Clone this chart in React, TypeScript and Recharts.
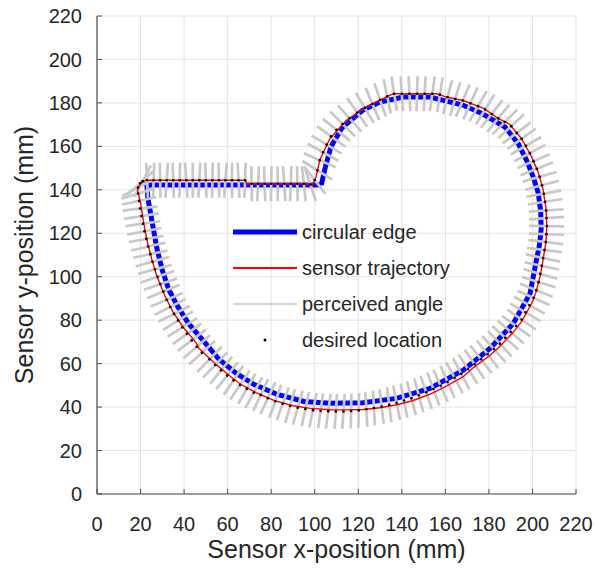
import React from 'react';
import { ComposedChart, Scatter, XAxis, YAxis, CartesianGrid, Legend, Label } from 'recharts';

const FONT = '"Liberation Sans", Arial, Helvetica, sans-serif';

const xTicks = [0, 20, 40, 60, 80, 100, 120, 140, 160, 180, 200, 220];
const yTicks = [0, 20, 40, 60, 80, 100, 120, 140, 160, 180, 200, 220];

// circular edge (mm)
const edge = [
  [103, 142.2], [105, 151], [107.5, 160], [112.5, 168.5], [122, 176.6], [130, 180.4], [140.6, 182.7],
  [152.9, 182.7], [168, 179], [177, 175], [187.4, 168.9], [193.5, 161.2], [197.3, 153.6], [200.4, 145.9],
  [202.7, 138.3], [203.8, 130], [204, 122], [203.2, 114.5], [201.8, 107.6], [198.9, 92.3], [191.2, 78.5],
  [180.5, 67], [168.2, 57], [152.9, 48.6], [137.6, 44], [122.2, 42], [107, 41.8], [95, 42.6], [82.4, 46],
  [72, 50.5], [64, 55.5], [56, 62], [48.6, 70.8], [42, 78.5], [37.2, 86.1], [33, 94], [30, 103],
  [27.5, 113], [25, 127], [23.4, 136], [22.9, 142.2], [103, 142.2],
];

// sensor trajectory (mm)
const trajectory = [
  [18.6, 140], [20, 143], [22.5, 144.4], [68.4, 144.4], [68.6, 142.8], [96, 142.8], [98.8, 142.2],
  [100.5, 145.5], [102.3, 153.6], [106.9, 163.5], [114.6, 172], [123.8, 178.1], [130, 181.4], [136, 184.2],
  [156, 184.2], [160.6, 182.7], [168.5, 181], [177.8, 177.4], [184, 173], [189.5, 170.2], [195, 163.5],
  [199.2, 156], [202.5, 148.5], [204.8, 140.5], [206.2, 131.5], [206.6, 123], [206.2, 116], [204.9, 108],
  [203.6, 100.5], [201.6, 92.8], [200, 88.5], [195.3, 79.8], [191.2, 74.4], [184.5, 67.4], [180, 63.4],
  [173, 58.3], [168.2, 54], [160, 49.4], [152.9, 45.9], [144.5, 42.8], [137.6, 41.1], [130, 39.7],
  [122.2, 38.9], [115, 38.7], [107, 38.8], [98, 39.4], [90, 40.6], [81.5, 43], [73, 46.7], [66, 50.5],
  [62.2, 53.4], [55, 59.3], [47, 66.8], [45.5, 69.7], [40, 76.3], [35, 83.6], [31, 91.6], [27.6, 100],
  [25.3, 107.5], [23.5, 114.5], [22.3, 120], [21.1, 127], [20, 134], [18.6, 140],
];

// desired location x, y (mm) and perceived angle (deg)
const samples = [
  [23, 144.4, 93], [26, 144.4, 88], [29, 144.4, 91], [32, 144.4, 86], [35, 144.4, 92], [38, 144.4, 89],
  [41, 144.4, 94], [44, 144.4, 90], [47, 144.4, 87], [50, 144.4, 92], [53, 144.4, 89], [56, 144.4, 91],
  [59, 144.4, 86], [62, 144.4, 90], [65, 144.4, 93], [68, 144.4, 88],
  [71, 142.8, 91], [74, 142.8, 87], [77, 142.8, 92], [80, 142.8, 89], [83, 142.8, 90], [86, 142.8, 94],
  [89, 142.8, 88], [92, 142.8, 91], [95, 142.8, 96], [98, 142.5, 108], [100, 144.5, 128],
  [101.2, 149, 148], [102.3, 153.6, 156], [103.8, 157.3, 151], [105.5, 160.8, 149], [107.5, 164.6, 144],
  [110, 167.6, 141], [112.8, 170.3, 135], [116, 172.9, 132], [119.5, 175.6, 125], [123, 177.7, 121],
  [126.5, 179.5, 113], [130, 181.4, 109], [133.3, 183, 102], [136.5, 184.2, 99], [140, 184.2, 94],
  [143.5, 184.2, 93], [147, 184.2, 88], [150.5, 184.2, 87], [154, 184.2, 82], [157.5, 183.8, 81],
  [161, 182.6, 75], [164.5, 181.8, 73], [168, 181.1, 67], [171.5, 179.8, 66], [175, 178.5, 60],
  [178.3, 177, 58], [181.3, 174.9, 52], [184.3, 172.9, 51], [187.3, 171.2, 45], [190.3, 169.3, 43],
  [192.8, 166.2, 37], [195, 163.5, 36], [197, 160.3, 30], [198.8, 156.9, 28], [200.5, 153.2, 23],
  [202, 149.7, 22], [203.3, 146, 16], [204.4, 142.1, 15], [205.2, 138.2, 10], [205.8, 134.5, 9],
  [206.3, 130.5, 4], [206.5, 127, 4], [206.6, 123.3, -1], [206.4, 119.6, -2], [206.1, 116, -7],
  [205.5, 112.3, -7], [204.9, 108.6, -12], [204.3, 105, -12], [203.6, 101.3, -16], [202.8, 97.5, -17],
  [201.8, 93.8, -22], [200.5, 90.3, -24], [198.6, 86.9, -29], [196.8, 83.6, -30], [195, 80.3, -35],
  [192.5, 77.3, -36], [190, 74.6, -41], [187.5, 71.9, -42], [185, 69.2, -47], [182.3, 66.7, -48],
  [179.4, 64.3, -52], [176.4, 62, -52], [173.4, 59.7, -56], [170.4, 57.5, -57], [167.3, 55.3, -62],
  [164.2, 53.5, -62], [161, 51.6, -66], [157.8, 49.8, -66], [154.5, 48.3, -70], [151.2, 46.8, -71],
  [147.8, 45.4, -75], [144.4, 44.1, -75], [141, 43, -79], [137.6, 42, -79], [134.2, 41.1, -83],
  [130.7, 40.3, -83], [127.2, 39.6, -87], [123.7, 39, -87], [120.2, 38.5, -91], [116.7, 38.2, -91],
  [113.2, 38, -94], [109.7, 38, -94], [106.2, 38.1, -98], [102.7, 38.3, -98], [99.2, 38.6, -102],
  [95.7, 39.1, -102], [92.2, 39.7, -106], [88.7, 40.5, -106], [85.3, 41.5, -110], [81.9, 42.7, -110],
  [78.5, 44.1, -115], [75.2, 45.6, -115], [72, 46.6, -119], [68.8, 48.4, -120], [65.7, 50.2, -124],
  [62.7, 52.3, -124], [59.8, 54.5, -129], [57, 56.9, -129], [54.3, 59.4, -134], [51.7, 62, -134],
  [48.2, 65, -138], [45.8, 67.8, -139], [43.5, 70.7, -143], [41.3, 73.7, -144], [39.2, 76.7, -148],
  [37.2, 79.8, -148], [35.4, 82.9, -153], [33.6, 86.1, -153], [32, 89.4, -157], [30.5, 93.2, -157],
  [29.1, 96.6, -161], [27.8, 100, -161], [26.6, 103.4, -165], [25.5, 106.9, -164], [24.5, 110.4, -168],
  [23.5, 113.9, -167], [22.6, 117.4, -170], [21.8, 120.9, -169], [21.1, 124.4, -172], [20.4, 127.9, -171],
  [19.8, 131.4, -173], [19.3, 134.9, -168], [18.9, 138.3, -163], [18.8, 141, -152], [19.8, 143, -138],
  [21, 144, -118],
];

const legendItems = ['circular edge', 'sensor trajectory', 'perceived angle', 'desired location'];

const edgeData = edge.map(([x, y]) => ({ x, y }));
const trajData = trajectory.map(([x, y]) => ({ x, y }));
const sampleData = samples.map(([x, y, a]) => ({ x, y, a }));

const NoMark = () => <g />;

const AngleMark = (props: any) => {
  const { cx, cy, payload } = props;
  const r = (payload.a * Math.PI) / 180;
  const dx = 17.5 * Math.cos(r);
  const dy = 17.5 * Math.sin(r);
  return <line x1={cx - dx} y1={cy + dy} x2={cx + dx} y2={cy - dy} stroke="#c8c8c8" strokeWidth={2.7} />;
};

const DotMark = (props: any) => <circle cx={props.cx} cy={props.cy} r={1.3} fill="#000" />;

const swatch = (i: number) => {
  if (i === 0) return <line x1={3} y1={18} x2={67} y2={18} stroke="#0000ff" strokeWidth={5} />;
  if (i === 1) return <line x1={3} y1={18} x2={67} y2={18} stroke="#ff0000" strokeWidth={2} />;
  if (i === 2) return <line x1={3} y1={18} x2={67} y2={18} stroke="#c4c4c4" strokeWidth={1.6} />;
  return <circle cx={35} cy={18} r={1.5} fill="#000" />;
};

const renderLegend = () => (
  <div style={{ fontFamily: FONT, fontSize: 20, color: '#262626' }}>
    {legendItems.map((name, i) => (
      <div key={name} style={{ display: 'flex', alignItems: 'center', height: 36 }}>
        <svg width={72} height={36}>{swatch(i)}</svg>
        <span>{name}</span>
      </div>
    ))}
  </div>
);

const tickStyle = { fill: '#262626', fontSize: 20, fontFamily: FONT };

export default function App() {
  return (
    <div style={{ position: 'absolute', left: 0, top: 0, width: 605, height: 570, background: '#fff' }}>
      <ComposedChart width={605} height={570} margin={{ top: 16, right: 29, left: 0, bottom: 0 }}>
        <CartesianGrid stroke="#e4e4e4" strokeWidth={1} />
        <XAxis
          type="number"
          dataKey="x"
          domain={[0, 220]}
          ticks={xTicks}
          interval={0}
          allowDataOverflow
          height={76}
          tickSize={-5}
          tickMargin={28}
          tick={tickStyle}
          axisLine={{ stroke: '#4d4d4d', strokeWidth: 1.2 }}
          tickLine={{ stroke: '#4d4d4d' }}
        >
          <Label
            value="Sensor x-position (mm)"
            position="insideBottom"
            offset={12}
            style={{ fill: '#262626', fontSize: 25, fontFamily: FONT }}
          />
        </XAxis>
        <YAxis
          type="number"
          dataKey="y"
          domain={[0, 220]}
          ticks={yTicks}
          interval={0}
          allowDataOverflow
          width={97}
          tickSize={-5}
          tickMargin={20}
          tick={tickStyle}
          axisLine={{ stroke: '#4d4d4d', strokeWidth: 1.2 }}
          tickLine={{ stroke: '#4d4d4d' }}
        >
          <Label
            value="Sensor y-position (mm)"
            angle={-90}
            position="insideLeft"
            offset={24}
            style={{ fill: '#262626', fontSize: 25, fontFamily: FONT, textAnchor: 'middle' }}
          />
        </YAxis>
        <Legend
          layout="vertical"
          align="center"
          verticalAlign="middle"
          content={renderLegend}
          wrapperStyle={{ left: 230, top: 214, width: 'auto' }}
        />
        <Scatter
          name="circular edge"
          data={edgeData}
          fill="#0000ff"
          line={{ stroke: '#0000ff', strokeWidth: 5 }}
          shape={NoMark}
          isAnimationActive={false}
        />
        <Scatter name="perceived angle" data={sampleData} fill="#c8c8c8" shape={AngleMark} isAnimationActive={false} />
        <Scatter
          name="sensor trajectory"
          data={trajData}
          fill="#ff0000"
          line={{ stroke: '#ff0000', strokeWidth: 1.4 }}
          shape={NoMark}
          isAnimationActive={false}
        />
        <Scatter name="desired location" data={sampleData} fill="#000" shape={DotMark} isAnimationActive={false} />
      </ComposedChart>
    </div>
  );
}
